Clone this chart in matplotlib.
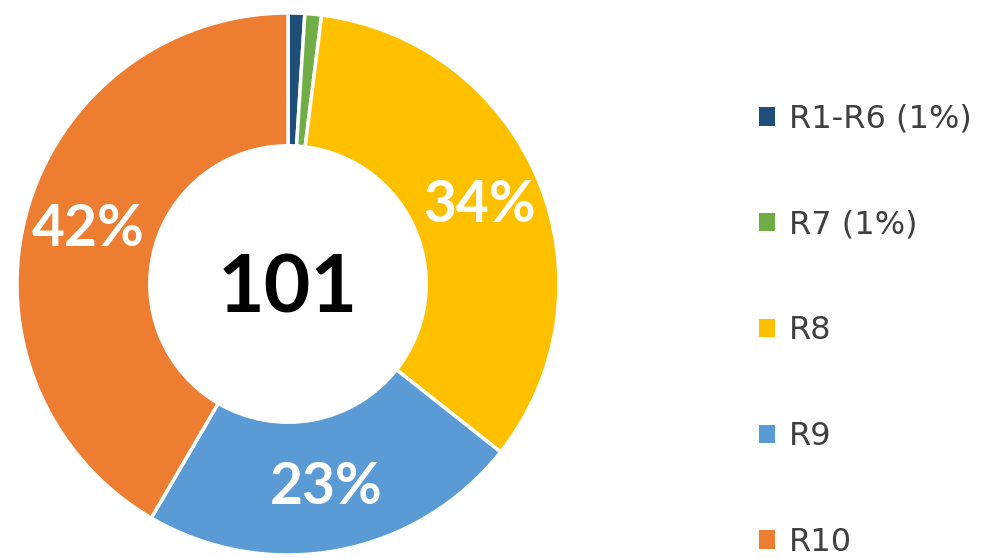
import matplotlib
matplotlib.use("Agg")
import matplotlib.pyplot as plt

categories = ["R1-R6 (1%)", "R7 (1%)", "R8", "R9", "R10"]
counts = [1, 1, 34, 23, 42]
colors = ["#1F4E79", "#70AD47", "#FFC000", "#5B9BD5", "#ED7D31"]
total_label = "101"

W, H = 990, 558
fig = plt.figure(figsize=(W / 100, H / 100), dpi=100)
fig.patch.set_facecolor("white")

cx, cy, R = 288, 284, 271
ax = fig.add_axes([(cx - R) / W, (H - cy - R) / H, 2 * R / W, 2 * R / H])

hole = 0.51

def pct(p):
    return f"{p:.0f}%" if p >= 5 else ""

wedges, texts, autotexts = ax.pie(
    counts,
    colors=colors,
    startangle=90,
    counterclock=False,
    radius=1.0,
    autopct=pct,
    pctdistance=(1 + hole) / 2 + 0.01,
    wedgeprops=dict(width=1 - hole, edgecolor="white", linewidth=2.5),
    textprops=dict(color="white", fontsize=41, fontweight="bold", family=["Lato", "DejaVu Sans"]),
)
ax.set_xlim(-1, 1)
ax.set_ylim(-1, 1)
ax.set_aspect("auto")

ax.text(0, -0.02, total_label, ha="center", va="center", fontsize=58, fontweight="bold",
        color="black", family=["Lato", "DejaVu Sans"])

leg = fig.legend(
    wedges, categories,
    loc="upper left",
    bbox_to_anchor=(730 / W, 1 - 75 / H),
    frameon=False,
    handlelength=0.5,
    handleheight=0.5,
    handletextpad=0.45,
    labelspacing=2.34,
    prop=dict(family=["DejaVu Sans"], size=23),
)
for t in leg.get_texts():
    t.set_color("#404040")
for h in leg.legend_handles:
    h.set_edgecolor("none")

fig.savefig("out.png", dpi=100)
